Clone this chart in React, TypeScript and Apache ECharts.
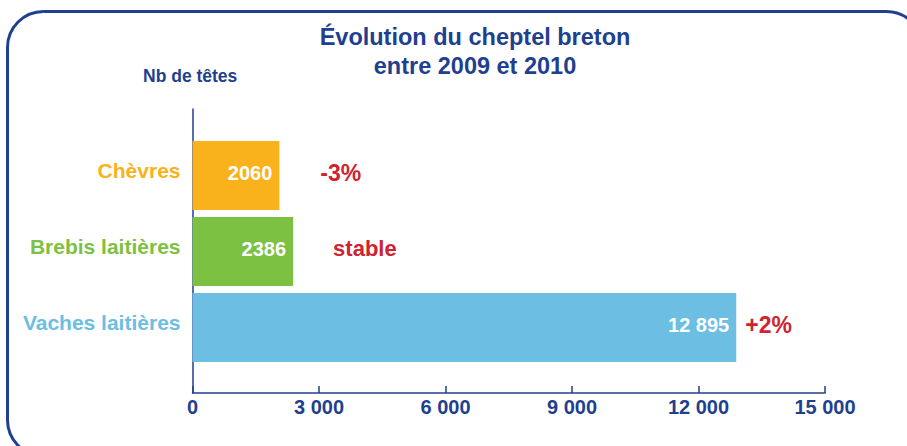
import React, { useEffect, useRef } from "react";
import * as echarts from "echarts";

const categories = ["Vaches laitières", "Brebis laitières", "Chèvres"];
const values = [12895, 2386, 2060];
const valueLabels = ["12 895", "2386", "2060"];
const changes = ["+2%", "stable", "-3%"];
const xTicks = [0, 3000, 6000, 9000, 12000, 15000];

const catColors = ["#6cbee2", "#7cc142", "#f9b21b"];
const DARK = "#1f3f8f";
const RED = "#d0232f";
const FONT = "'Liberation Sans', Arial, sans-serif";

export default function App() {
  const ref = useRef<HTMLDivElement>(null);
  useEffect(() => {
    document.body.style.margin = "0";
    const chart = echarts.init(ref.current!, null, { renderer: "svg" });
    const changeDist = [9, 40, 41];
    const changeSize = [23, 22, 23];
    const option: any = {
      animation: false,
      textStyle: { fontFamily: FONT },
      grid: [
        { left: 192.5, right: 82, top: 137.5, height: 228 },
        { left: 192.5, right: 82, top: 109, height: 284 },
      ],
      xAxis: [
        { gridIndex: 0, type: "value", min: 0, max: 15000, show: false },
        {
          gridIndex: 1,
          type: "value",
          min: xTicks[0],
          max: xTicks[xTicks.length - 1],
          interval: 3000,
          axisLine: { show: true, lineStyle: { color: DARK, width: 1.5 } },
          axisTick: { show: true, inside: true, length: 7, lineStyle: { color: DARK, width: 1.5 } },
          splitLine: { show: false },
          axisLabel: {
            color: DARK,
            fontFamily: FONT,
            fontWeight: "bold",
            fontSize: 20,
            margin: 4,
            formatter: (v: number) =>
              v >= 1000 ? String(v).replace(/\B(?=(\d{3})+(?!\d))/g, " ") : String(v),
          },
        },
      ],
      yAxis: [
        {
          gridIndex: 0,
          type: "category",
          data: categories,
          axisLine: { show: false },
          axisTick: { show: false },
          axisLabel: {
            margin: 12,
            fontFamily: FONT,
            fontWeight: "bold",
            fontSize: 21,
            verticalAlign: "bottom",
            lineHeight: 10,
            color: (_v: any, i: number) => catColors[i],
          },
        },
        {
          gridIndex: 1,
          type: "value",
          min: 0,
          max: 1,
          axisLine: { show: true, lineStyle: { color: DARK, width: 1.5 } },
          axisTick: { show: false },
          axisLabel: { show: false },
          splitLine: { show: false },
        },
      ],
      series: [
        {
          type: "bar",
          xAxisIndex: 0,
          yAxisIndex: 0,
          barWidth: 69,
          barGap: "-100%",
          data: values.map((v, i) => ({ value: v, itemStyle: { color: catColors[i] } })),
          label: {
            show: true,
            position: "insideRight",
            distance: 7,
            color: "#ffffff",
            fontFamily: FONT,
            fontWeight: "bold",
            fontSize: 20,
            offset: [0, -3],
            formatter: (p: any) => valueLabels[p.dataIndex],
          },
          z: 1,
        },
        {
          type: "bar",
          xAxisIndex: 0,
          yAxisIndex: 0,
          barWidth: 69,
          barGap: "-100%",
          itemStyle: { color: "rgba(0,0,0,0)" },
          data: values.map((v, i) => ({
            value: v,
            label: { distance: changeDist[i], fontSize: changeSize[i] },
          })),
          label: {
            show: true,
            position: "right",
            color: RED,
            fontFamily: FONT,
            fontWeight: "bold",
            offset: [0, -3],
            formatter: (p: any) => changes[p.dataIndex],
          },
          z: 2,
        },
      ],
      graphic: [
        {
          type: "rect",
          shape: { x: 7.5, y: 11.5, width: 915, height: 444.5, r: 36 },
          style: { fill: "none", stroke: DARK, lineWidth: 3 },
          silent: true,
        },
        {
          type: "text",
          x: 475,
          y: 22,
          style: {
            text: "Évolution du cheptel breton\nentre 2009 et 2010",
            textAlign: "center",
            fill: DARK,
            font: `bold 23.5px ${FONT}`,
            lineHeight: 29,
          },
        },
        {
          type: "text",
          x: 143,
          y: 67,
          style: {
            text: "Nb de têtes",
            fill: DARK,
            font: `bold 17.5px ${FONT}`,
          },
        },
      ],
    };
    chart.setOption(option);
    return () => chart.dispose();
  }, []);
  return <div ref={ref} style={{ width: 907, height: 446 }} />;
}
